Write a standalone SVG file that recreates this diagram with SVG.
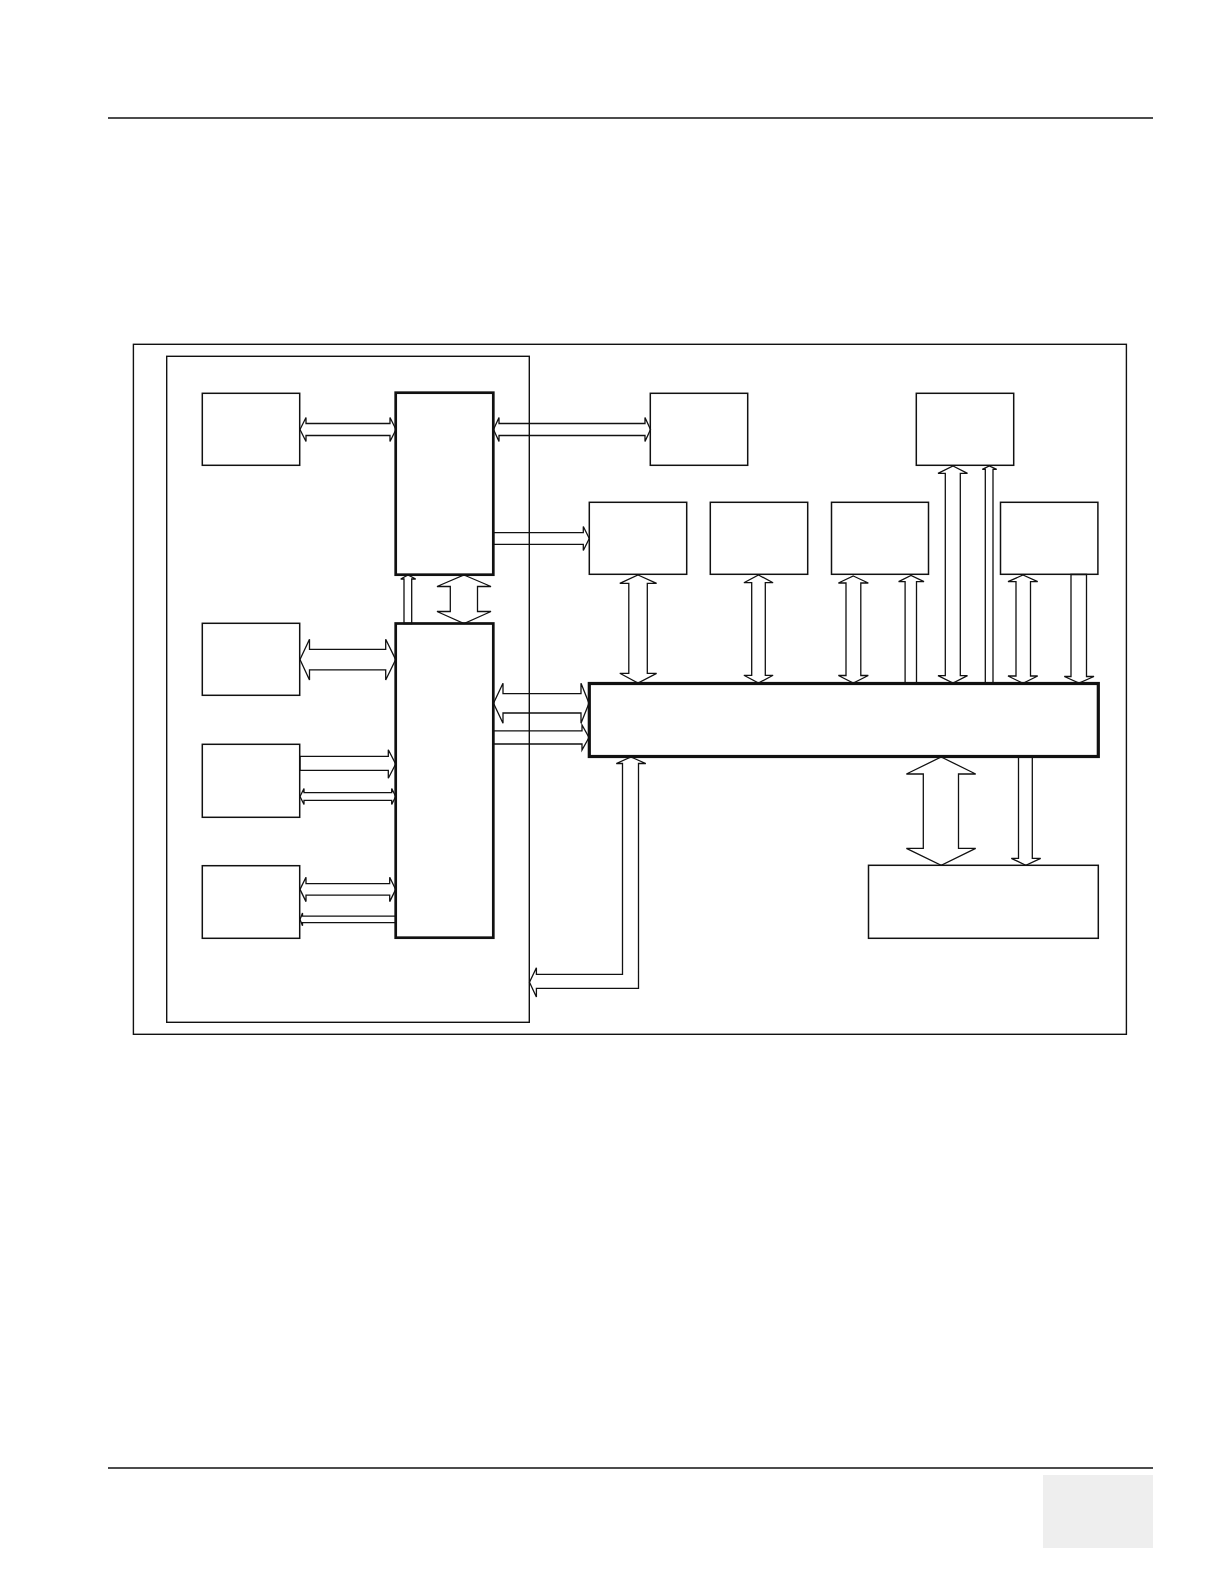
<svg xmlns="http://www.w3.org/2000/svg" width="1222" height="1584" viewBox="0 0 1222 1584">
<style>
.bx{fill:none;stroke:#111;stroke-width:1.5}
.thk{fill:none;stroke:#111;stroke-width:2.7}
.bus{fill:none;stroke:#111;stroke-width:3.2}
.fr{fill:none;stroke:#111;stroke-width:1.4}
.ar{fill:#fff;stroke:#111;stroke-width:1.3;stroke-linejoin:miter}
.rule{stroke:#111;stroke-width:1.4}
</style>
<rect x="0" y="0" width="1222" height="1584" fill="#fff"/>
<g id="page">
<line class="rule" x1="108" y1="118" x2="1153" y2="118"/>
<line class="rule" x1="108" y1="1468" x2="1153" y2="1468"/>
<rect x="1043" y="1475" width="110" height="73" fill="#eeeeee"/>
</g>
<g id="connectors">
<polygon class="ar" points="300,429.5 306,417.5 306,423.5 390,423.5 390,417.5 396,429.5 390,441.5 390,435.5 306,435.5 306,441.5"/>
<polygon class="ar" points="493.5,429.5 499,417.5 499,423.5 645,423.5 645,417.5 650.5,429.5 645,441.5 645,435.5 499,435.5 499,441.5"/>
<polygon class="ar" points="493.5,532.7 583.3,532.7 583.3,526.5 589.3,538.5 583.3,550.5 583.3,544.3 493.5,544.3"/>
<polygon class="ar" points="404,623.5 404,579 400.7,579 408,575 415.7,579 411.7,579 411.7,623.5"/>
<polygon class="ar" points="464,575 491,586.5 477.5,586.5 477.5,611.5 491,611.5 464,623.5 437,611.5 450.3,611.5 450.3,586.5 437,586.5"/>
<polygon class="ar" points="300,659.6 309.5,639.2 309.5,649.4 385.7,649.4 385.7,639.2 395.7,659.6 385.7,680 385.7,669.8 309.5,669.8 309.5,680"/>
<polygon class="ar" points="300,756.3 388.3,756.3 388.3,749.7 395.7,764 388.3,778.3 388.3,770.3 300,770.3"/>
<polygon class="ar" points="300,796.5 304,788.5 304,792.7 391.7,792.7 391.7,788.5 395.7,796.5 391.7,804.5 391.7,800.3 304,800.3 304,804.5"/>
<polygon class="ar" points="300,889.4 306,877.2 306,883.7 389.7,883.7 389.7,877.2 395.7,889.4 389.7,901.6 389.7,895.1 306,895.1 306,901.6"/>
<polygon class="ar" points="395.7,916.2 302.5,916.2 302.5,913 300,919.4 302.5,925.8 302.5,922.6 395.7,922.6"/>
<polygon class="ar" points="493.5,703.3 503,683.3 503,693.6 581,693.6 581,683.3 589,703.3 581,723.3 581,713 503,713 503,723.3"/>
<polygon class="ar" points="493.5,730.8 582,730.8 582,725 589,737.5 582,750 582,744 493.5,744"/>
<polygon class="ar" points="631,757 645.8,763.5 638.5,763.5 638.5,988.3 536.4,988.3 536.4,997 529.5,982.3 536.4,967.7 536.4,974.3 622.5,974.3 622.5,763.5 616.3,763.5"/>
<polygon class="ar" points="638,575 656.6,583.3 647.3,583.3 647.3,673.3 656.6,673.3 638,683 619.8,673.3 628.8,673.3 628.8,583.3 619.8,583.3"/>
<polygon class="ar" points="758.5,575 773.1,582.7 765.3,582.7 765.3,675.3 773.1,675.3 758.5,683 743.9,675.3 751.7,675.3 751.7,582.7 743.9,582.7"/>
<polygon class="ar" points="853.3,576 868.3,583 860.8,583 860.8,675.5 868.3,675.5 853.3,683 838.4,675.5 846,675.5 846,583 838.4,583"/>
<polygon class="ar" points="905.1,683.3 905.1,581.7 898.6,581.7 911,575.5 924,581.7 916.5,581.7 916.5,683.3"/>
<polygon class="ar" points="953,466 967.5,473.3 960.3,473.3 960.3,675.7 967.5,675.7 953,683 938,675.7 945.3,675.7 945.3,473.3 938,473.3"/>
<polygon class="ar" points="985.3,683.3 985.3,469.3 982.3,469.3 989.3,466 996.7,469.3 993,469.3 993,683.3"/>
<polygon class="ar" points="1023,575 1037.7,581.7 1030.5,581.7 1030.5,676 1037.7,676 1023,683.3 1008,676 1016,676 1016,581.7 1008,581.7"/>
<polygon class="ar" points="1071,574.5 1086.5,574.5 1086.5,676.5 1094,676.5 1079,683 1064.3,676.5 1071,676.5"/>
<polygon class="ar" points="941.2,757 975.7,774 958.5,774 958.5,848.3 975.7,848.3 941.2,865.3 906.4,848.3 923.3,848.3 923.3,774 906.4,774"/>
<polygon class="ar" points="1018.5,756.5 1032.3,756.5 1032.3,858.3 1040.7,858.3 1025.8,865.3 1011.3,858.3 1018.5,858.3"/>
</g>
<g id="outer-frame"><rect class="fr" x="133.4" y="344.3" width="993" height="690"/></g>
<g id="inner-frame"><rect class="fr" x="166.7" y="356.3" width="362.6" height="666"/></g>
<g id="node-a"><rect class="bx" x="202.3" y="393.3" width="97.4" height="72"/></g>
<g id="node-b"><rect class="thk" x="395.7" y="392.7" width="97.6" height="182"/></g>
<g id="node-c"><rect class="thk" x="395.7" y="623.5" width="97.6" height="314.2"/></g>
<g id="node-d"><rect class="bx" x="202.3" y="623.3" width="97.4" height="72"/></g>
<g id="node-e"><rect class="bx" x="202.3" y="744.3" width="97.4" height="73"/></g>
<g id="node-f"><rect class="bx" x="202.3" y="865.7" width="97.4" height="72.6"/></g>
<g id="node-m"><rect class="bx" x="650.3" y="393.3" width="97.4" height="72"/></g>
<g id="node-n"><rect class="bx" x="916.3" y="393.3" width="97.4" height="72"/></g>
<g id="node-g"><rect class="bx" x="589.3" y="502.3" width="97.4" height="72"/></g>
<g id="node-h"><rect class="bx" x="710.3" y="502.3" width="97.4" height="72"/></g>
<g id="node-i"><rect class="bx" x="831.5" y="502.3" width="97" height="72"/></g>
<g id="node-j"><rect class="bx" x="1000.5" y="502.3" width="97.4" height="72"/></g>
<g id="node-bus"><rect class="bus" x="589.3" y="683.5" width="509" height="73"/></g>
<g id="node-l"><rect class="bx" x="868.5" y="865.3" width="229.8" height="73"/></g>
</svg>
